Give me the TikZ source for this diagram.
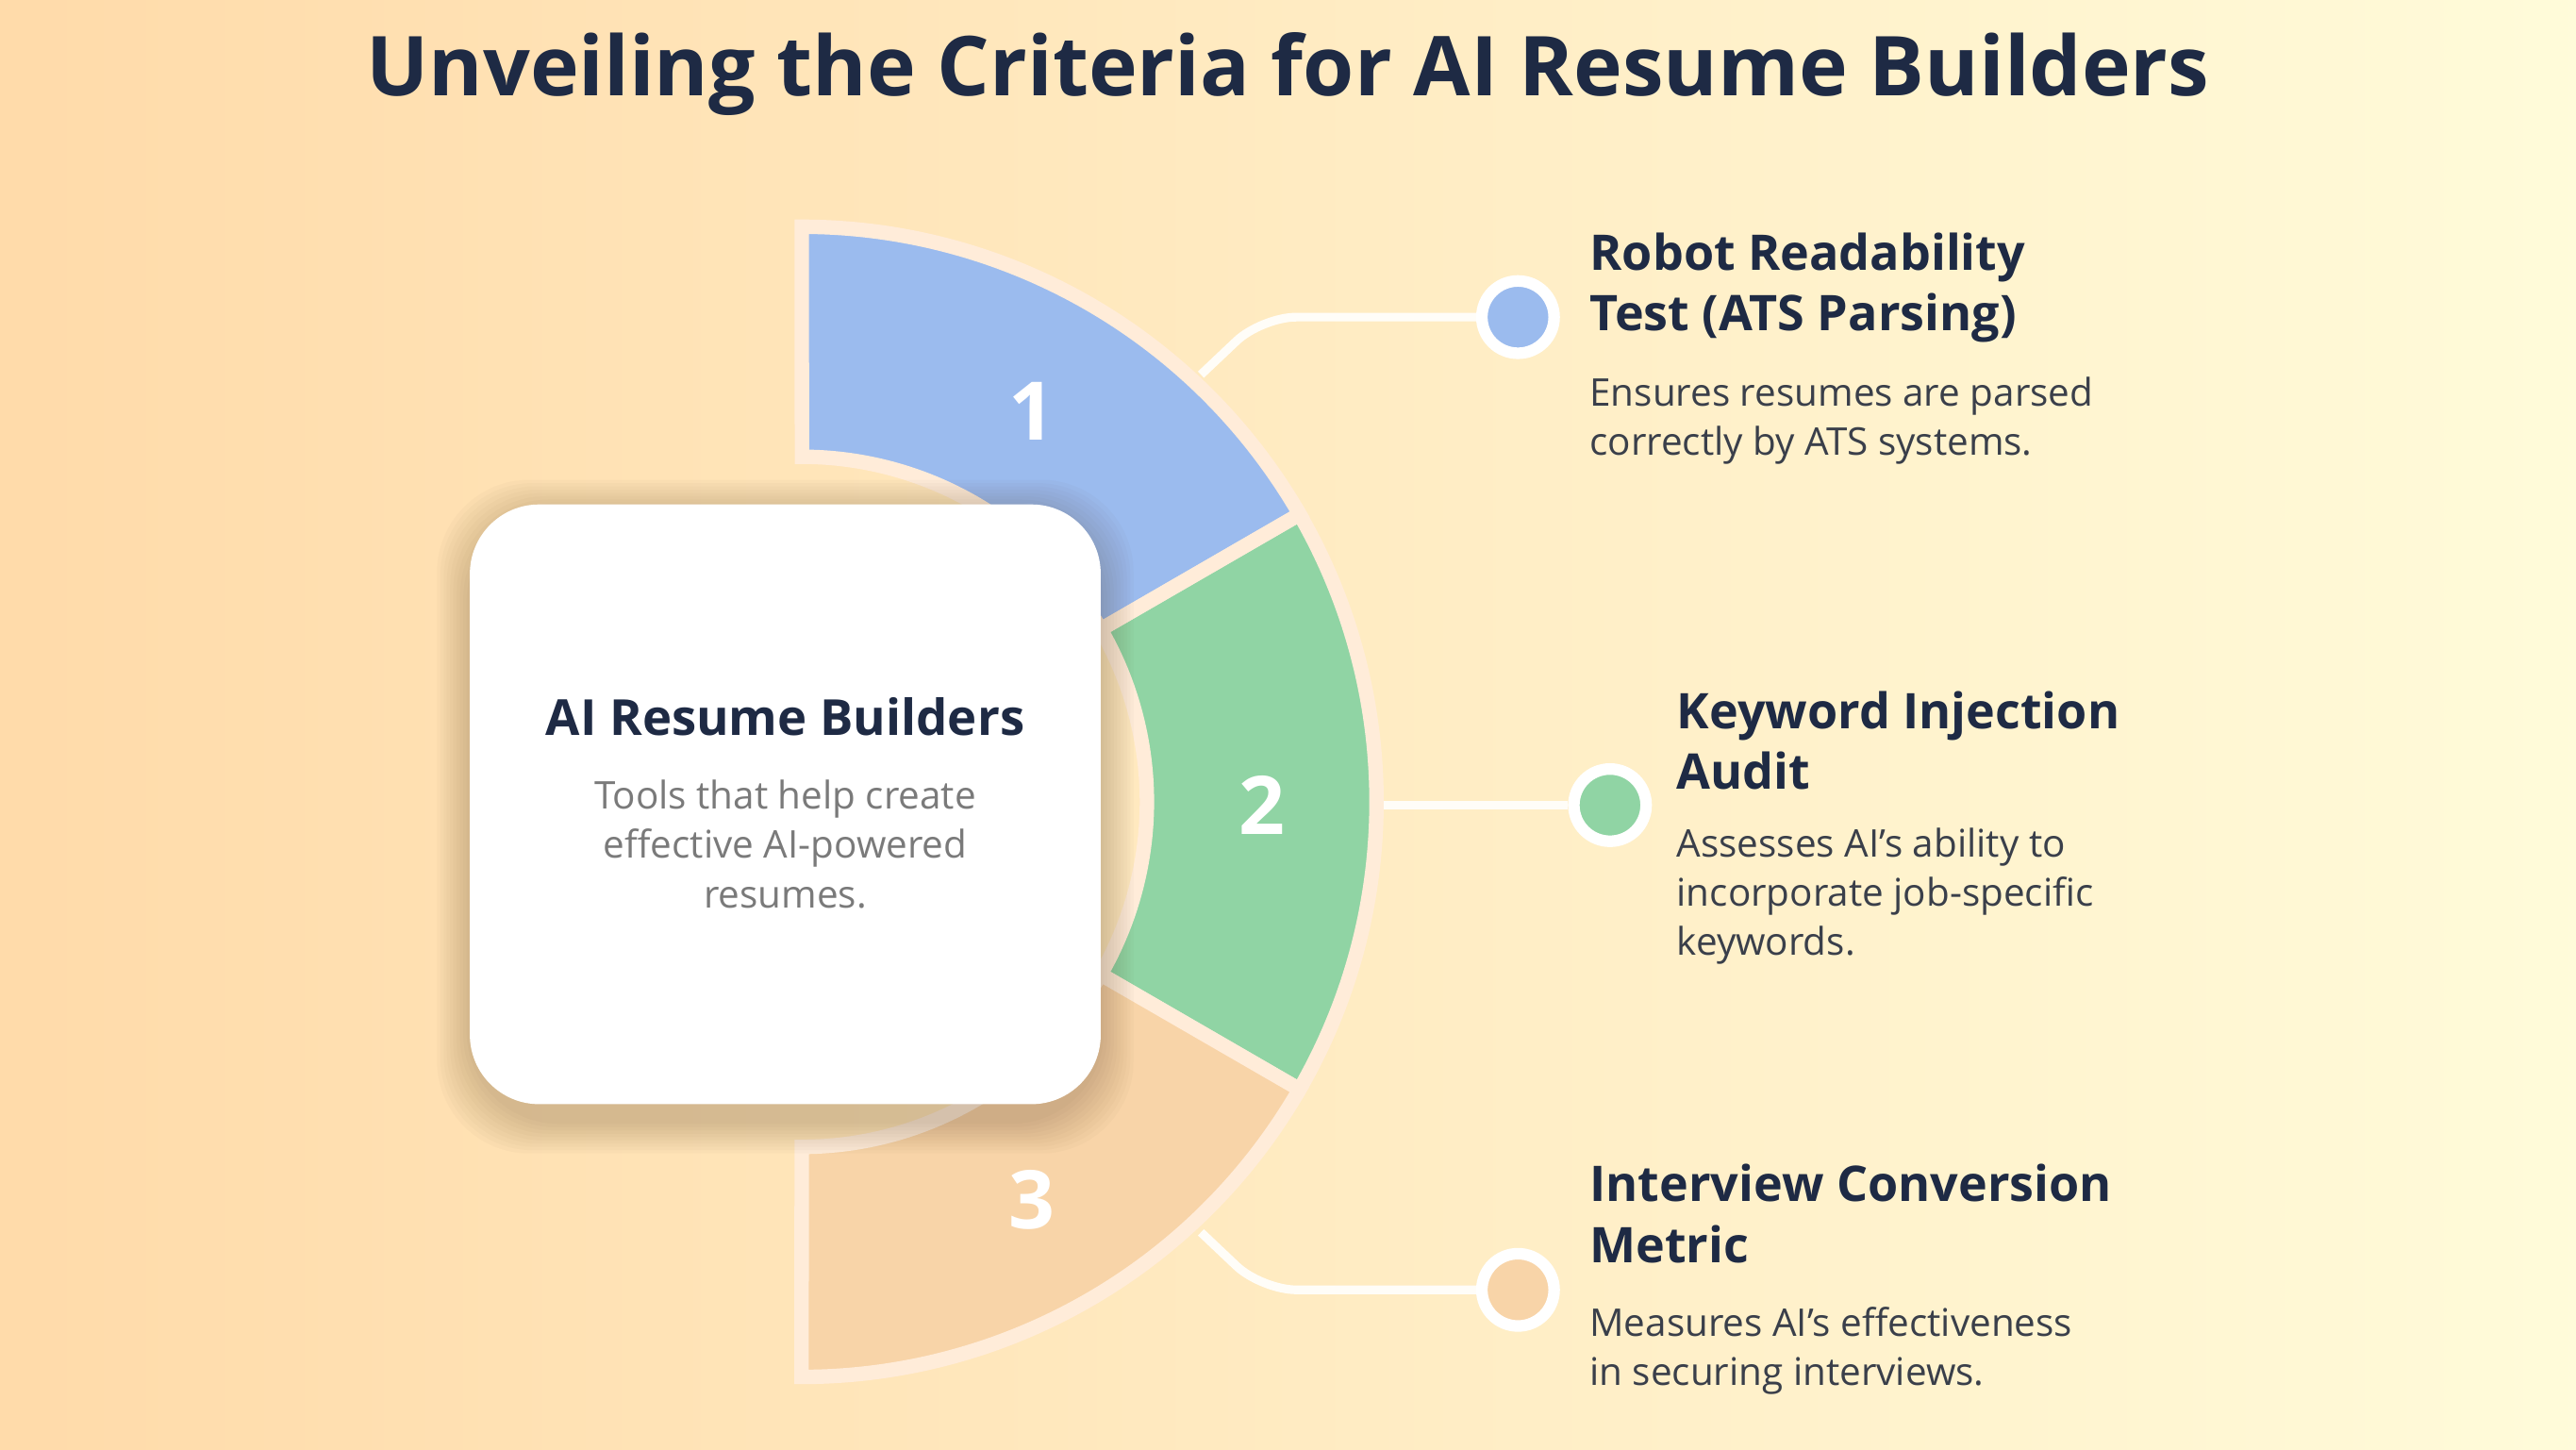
\documentclass[tikz,border=0pt]{standalone}
\usepackage{fontspec}
\setmainfont{Open Sans}
\definecolor{navy}{HTML}{1E2A44}
\definecolor{segblue}{HTML}{9BBBEE}
\definecolor{seggreen}{HTML}{90D4A4}
\definecolor{segpeach}{HTML}{F8D4A8}
\definecolor{bodytxt}{HTML}{3A3F4A}
\definecolor{cardtxt}{HTML}{7A7A7A}
\definecolor{linec}{HTML}{FFFDF8}
\tikzset{
  seg/.style={draw=white!85!orange, line width=2.5pt},
  head/.style={font=\fontsize{8.5}{10.5}\selectfont\bfseries, text=navy, anchor=north west, align=left, inner sep=0},
  body/.style={font=\fontsize{6.6}{8.5}\selectfont, text=bodytxt, anchor=north west, align=left, inner sep=0},
  num/.style={font=\fontsize{14}{14}\selectfont\bfseries, text=white},
  dot/.style={circle, minimum size=44*0.01cm, line width=2pt, draw=white, inner sep=0},
  conn/.style={draw=linec, line width=1.5pt, rounded corners=6pt},
  shad/.style={fill=black!60!brown, fill opacity=0.025, rounded corners=16pt},
}
\begin{document}
\begin{tikzpicture}[x=0.01cm,y=-0.01cm]
\shade[left color=orange!30!white!95!yellow, right color=yellow!12!white!97!orange] (0,0) rectangle (1568,882);
\useasboundingbox (0,0) rectangle (1568,882);
\node[font=\fontsize{14.3}{16}\selectfont\bfseries, text=navy] (title) at (784,45) {Unveiling the Criteria for AI Resume Builders};
% segments
\fill[segblue] (488,138) arc[start angle=-90,end angle=-30,radius=350] -- (670,383) arc[start angle=-30,end angle=-90,radius=210] -- cycle;
\fill[seggreen] (791,313) arc[start angle=-30,end angle=30,radius=350] -- (670,593) arc[start angle=30,end angle=-30,radius=210] -- cycle;
\draw[seg] (791,313) arc[start angle=-30,end angle=30,radius=350] -- (670,593) arc[start angle=30,end angle=-30,radius=210] -- cycle;
\fill[segpeach] (791,663) arc[start angle=30,end angle=90,radius=350] -- (488,698) arc[start angle=90,end angle=30,radius=210] -- cycle;
\draw[seg] (791,663) arc[start angle=30,end angle=90,radius=350] -- (488,698) arc[start angle=90,end angle=30,radius=210] -- cycle;
\draw[seg] (488,138) arc[start angle=-90,end angle=-30,radius=350] -- (670,383) arc[start angle=-30,end angle=-90,radius=210] -- cycle;
\node[num] (n1) at (628,250) {1};
\node[num] (n2) at (768,490) {2};
\node[num] (n3) at (628,730) {3};
% card shadow
\foreach \k in {2,4,...,20} {
  \fill[shad] (286-\k,312-\k) rectangle (670+\k,682+\k);
}
\node[fill=white, rounded corners=12pt, minimum width=384*0.01cm, minimum height=365*0.01cm] (card) at (478,489.5) {};
\node[font=\fontsize{8.6}{10}\selectfont\bfseries, text=navy] (ctitle) at (478,436) {AI Resume Builders};
\node[font=\fontsize{6.6}{8.55}\selectfont, text=cardtxt, align=center, anchor=north, inner sep=0] (cbody) at (478,474) {Tools that help create\\effective AI-powered\\resumes.};
% dots and connectors
\node[dot, fill=segblue] (d1) at (924,193) {};
\node[dot, fill=seggreen] (d2) at (980,490) {};
\node[dot, fill=segpeach] (d3) at (924,785) {};
\coordinate (s1) at (731,228);
\coordinate (s2) at (842,490);
\coordinate (s3) at (731,750);
\draw[conn] (s1) -- (768,193) -- (d1.west);
\draw[conn] (s2) -- (d2.west);
\draw[conn] (s3) -- (768,785) -- (d3.west);
% texts
\node[head] (h1) at (967,141) {Robot Readability\\Test (ATS Parsing)};
\node[body] (b1) at (967,229) {Ensures resumes are parsed\\correctly by ATS systems.};
\node[head] (h2) at (1020,420) {Keyword Injection\\Audit};
\node[body] (b2) at (1020,503) {Assesses AI's ability to\\incorporate job-specific\\keywords.};
\node[head] (h3) at (967,708) {Interview Conversion\\Metric};
\node[body] (b3) at (967,795) {Measures AI's effectiveness\\in securing interviews.};
\end{tikzpicture}
\end{document}
